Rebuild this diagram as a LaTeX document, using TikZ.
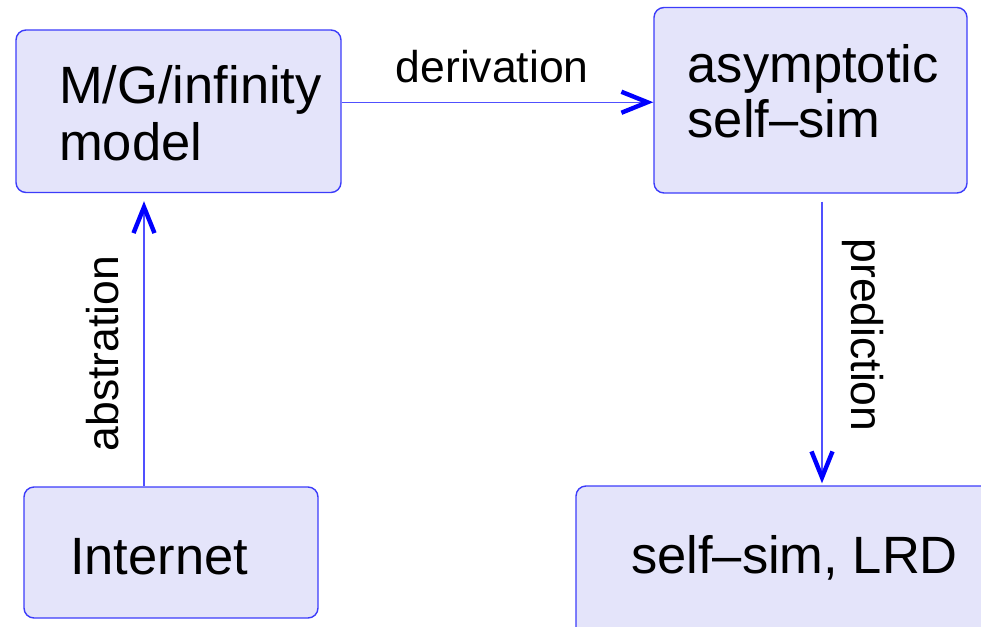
\documentclass[tikz,border=0pt]{standalone}
\usepackage{fontspec}
\setmainfont{Liberation Sans}
\usetikzlibrary{arrows.meta}
\definecolor{boxfill}{RGB}{228,228,250}
\definecolor{boxline}{RGB}{60,60,250}
\definecolor{shaft}{RGB}{80,80,255}
\definecolor{tipblue}{RGB}{0,0,255}
\tikzset{
  box/.style={draw=boxline, fill=boxfill, line width=1.4pt, rounded corners=10pt, inner sep=0pt},
  boxtext/.style={anchor=base west, inner sep=0pt, font=\fontsize{52.5}{57}\selectfont},
  lbl/.style={inner sep=0pt, font=\fontsize{44.5}{50}\selectfont},
  arr/.style={draw=shaft, line width=1.2pt,
    -{Straight Barb[length=26pt,width=21pt,line width=4.4pt,color=tipblue,sharp]}},
}
\begin{document}
\begin{tikzpicture}[x=1pt,y=-1pt]
\useasboundingbox (0,0) rectangle (981,626);
\clip (0,0) rectangle (981,626);
% boxes
\node[box, minimum width=325pt, minimum height=162.5pt] (mg) at (178.5,111.25) {};
\node[box, minimum width=313pt, minimum height=185.5pt] (asy) at (810.5,100.25) {};
\node[box, minimum width=294pt, minimum height=131pt] (inet) at (171,552.5) {};
\node[box, minimum width=424pt, minimum height=164pt] (lrd) at (788,568) {};
% box texts
\node[boxtext] (mgA) at (59,103) {M/G/infinity};
\node[boxtext] (mgB) at (59,160) {model};
\node[boxtext] (asyA) at (687.5,82) {asymptotic};
\node[boxtext] (asyB) at (687.5,137) {self–sim};
\node[boxtext] (inetT) at (70,574) {Internet};
\node[boxtext] (lrdT) at (631,573) {self–sim, LRD};
% connectors
\path ([yshift=-2pt]asy.west) coordinate (dend);
\draw[arr] (mg.east |- dend) -- (dend);
\draw[arr] ([xshift=-27pt]inet.north) -- ([xshift=-34.5pt,yshift=-8pt]mg.south);
\path ([xshift=11.5pt,yshift=-8pt]asy.south) coordinate (pstart);
\draw[arr, shorten >=2pt] (pstart) -- (pstart |- lrd.north);
% labels
\node[lbl, anchor=base west] (der) at (395.5,82) {derivation};
\node[lbl, anchor=base, rotate=90] (abs) at (118,353.5) {abstration};
\node[lbl, anchor=base, rotate=-90] (pred) at (851,335) {prediction};
\end{tikzpicture}
\end{document}
